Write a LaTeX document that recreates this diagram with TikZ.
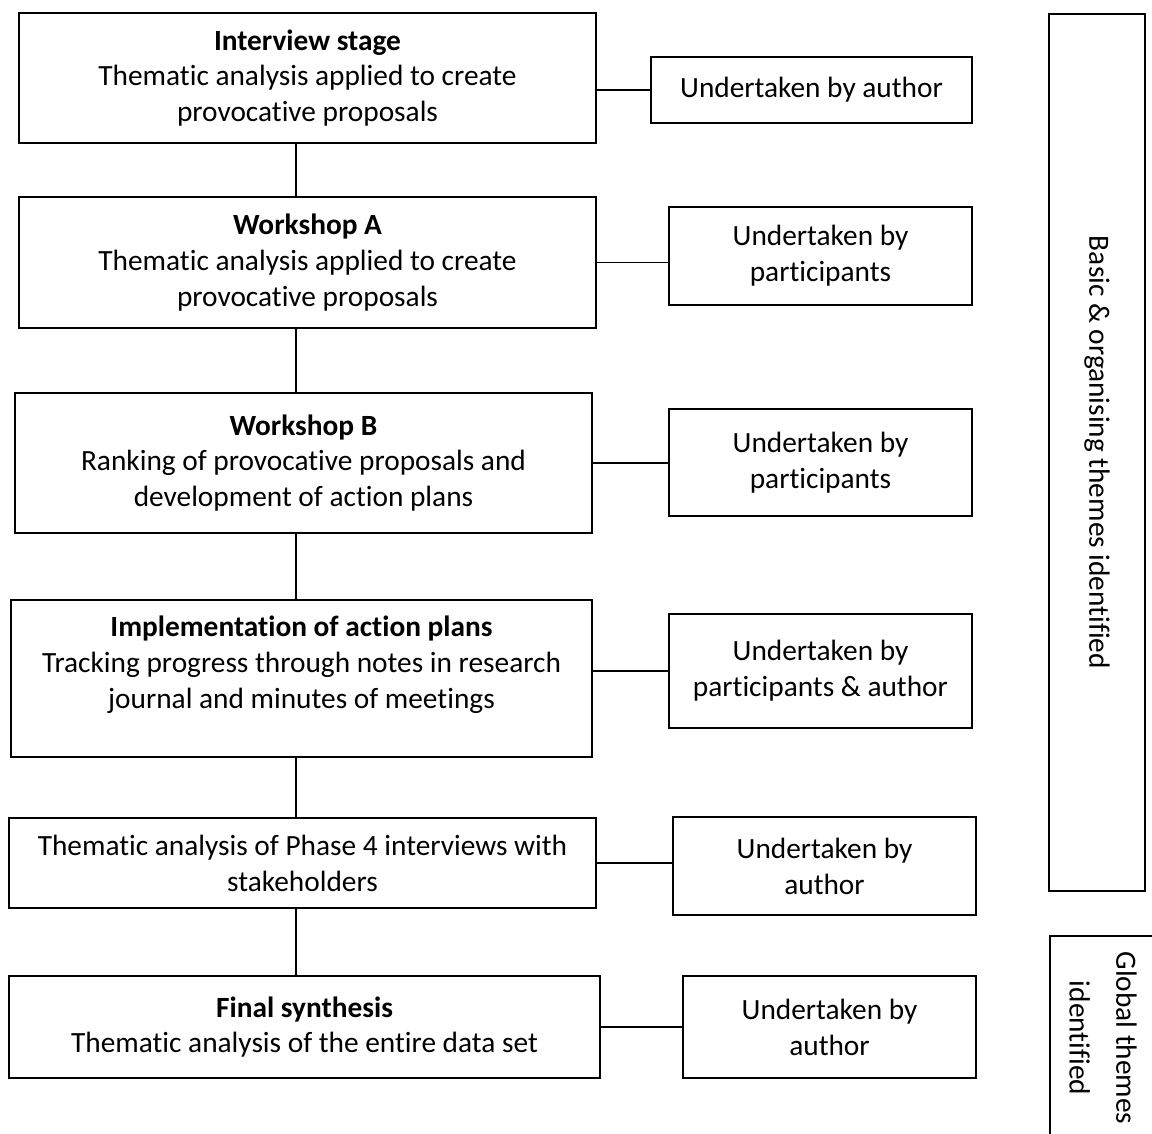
\documentclass[tikz,border=0pt]{standalone}
\usepackage{fontspec}
\setmainfont{Carlito}[Ligatures=NoCommon]

\begin{document}
\begin{tikzpicture}[line width=0.9pt,
  stagebox/.style={draw,align=center,inner sep=0pt,
    font=\fontsize{16.7}{20.4}\selectfont},
  sidebox/.style={stagebox},
  themebox/.style={stagebox,rotate=-90}]
\useasboundingbox (0,0) rectangle (23.04,22.66);
\clip (0,0) rectangle (23.04,22.66);
% 左列：各阶段
\node[stagebox,minimum width=11.54cm,minimum height=2.60cm] (b1) at (6.15,21.10)
  {\textbf{Interview stage}\\Thematic analysis applied to create\\provocative proposals};
\node[stagebox,minimum width=11.54cm,minimum height=2.62cm] (bA) at (6.15,17.41)
  {\textbf{Workshop A}\\Thematic analysis applied to create\\provocative proposals};
\node[stagebox,minimum width=11.54cm,minimum height=2.80cm] (bB) at (6.07,13.40)
  {\textbf{Workshop B}\\Ranking of provocative proposals and\\development of action plans};
\node[stagebox,minimum width=11.62cm,minimum height=3.14cm] (bI) at (6.03,9.09)
  {\textbf{Implementation of action plans}\\Tracking progress through notes in research\\journal and minutes of meetings\\[-8pt]\strut};
\node[stagebox,minimum width=11.74cm,minimum height=1.80cm] (bP) at (6.05,5.40)
  {Thematic analysis of Phase 4 interviews with\\stakeholders};
\node[stagebox,minimum width=11.82cm,minimum height=2.04cm] (bF) at (6.09,2.12)
  {\textbf{Final synthesis}\\Thematic analysis of the entire data set};
% 右列：执行者
\node[sidebox,minimum width=6.42cm,minimum height=1.32cm] (u1) at (16.23,20.86) {Undertaken by author};
\node[sidebox,minimum width=6.06cm,minimum height=1.96cm] (uA) at (16.41,17.54) {Undertaken by\\participants};
\node[sidebox,minimum width=6.06cm,minimum height=2.14cm] (uB) at (16.41,13.41) {Undertaken by\\participants};
\node[sidebox,minimum width=6.06cm,minimum height=2.28cm] (uI) at (16.41,9.24) {Undertaken by\\participants \& author};
\node[sidebox,minimum width=6.06cm,minimum height=1.96cm] (uP) at (16.49,5.34) {Undertaken by\\author};
\node[sidebox,minimum width=5.86cm,minimum height=2.04cm] (uF) at (16.59,2.12) {Undertaken by\\author};
% 最右：主题（竖排）
\node[themebox,minimum width=17.54cm,minimum height=1.92cm] (basic) at (21.94,13.61)
  {Basic \& organising themes identified};
\node[themebox,minimum width=4.08cm,minimum height=2.12cm,
  font=\fontsize{16.7}{26.6}\selectfont] (global) at (22.06,1.90)
  {Global themes\\identified};
% 竖直主线
\coordinate (spine) at (5.92,0);
\draw (b1.south -| spine) -- (bA.north -| spine);
\draw (bA.south -| spine) -- (bB.north -| spine);
\draw (bB.south -| spine) -- (bI.north -| spine);
\draw (bI.south -| spine) -- (bP.north -| spine);
\draw (bP.south -| spine) -- (bF.north -| spine);
% 水平连线
\draw (b1.east |- u1.west) -- (u1.west);
\draw (bA.east) -- (bA.east -| uA.west);
\draw (bB.east) -- (bB.east -| uB.west);
\draw (bI.east |- uI.west) -- (uI.west);
\draw (bP.east) -- (bP.east -| uP.west);
\draw (bF.east) -- (bF.east -| uF.west);
\end{tikzpicture}
\end{document}
